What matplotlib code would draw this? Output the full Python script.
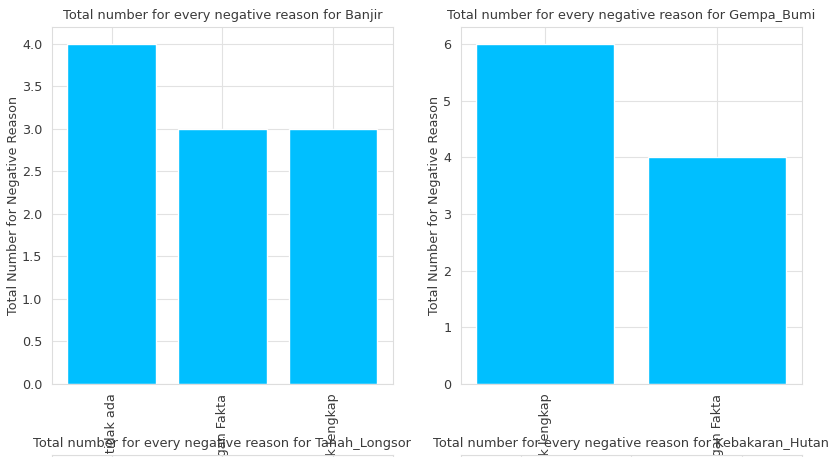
import matplotlib
matplotlib.use("Agg")
import matplotlib.pyplot as plt
import seaborn as sns

sns.set_style("whitegrid")
plt.rcParams['font.family'] = ['DejaVu Sans']

# negative reasons per disaster type
banjir_reasons = ["Informasi tidak ada", "Tidak sesuai dengan Fakta", "Informasi tidak lengkap"]
banjir_counts = [4, 3, 3]

gempa_reasons = ["Informasi tidak lengkap", "Tidak sesuai dengan Fakta"]
gempa_counts = [6, 4]

bar_color = "#00BFFF"
text_color = "#3a3a3a"
title_fs = 9.3
tick_fs = 9.2
label_fs = 9.2

fig = plt.figure(figsize=(8.29, 4.57), dpi=100)

ax1 = fig.add_axes([0.0627, 0.160, 0.411, 0.781])
ax2 = fig.add_axes([0.556, 0.160, 0.411, 0.781])
# second row sits below the visible area, only titles show
ax3 = fig.add_axes([0.0627, -0.780, 0.411, 0.7844])
ax4 = fig.add_axes([0.556, -0.780, 0.411, 0.7844])

for ax, reasons, counts, name in [(ax1, banjir_reasons, banjir_counts, "Banjir"),
                                  (ax2, gempa_reasons, gempa_counts, "Gempa_Bumi")]:
    ax.bar(reasons, counts, color=bar_color)
    ax.set_title(f"Total number for every negative reason for {name}",
                 fontsize=title_fs, color=text_color)
    ax.set_ylabel("Total Number for Negative Reason", fontsize=label_fs,
                  color=text_color, labelpad=1.5)
    ax.tick_params(axis="x", labelrotation=90, labelsize=tick_fs, labelcolor=text_color)
    ax.tick_params(axis="y", labelsize=tick_fs, labelcolor=text_color)
    ax.grid(color="#e2e2e2")
    for s in ax.spines.values():
        s.set_color("#dddddd")

ax2.set_yticks(range(0, 7))

for ax, name in [(ax3, "Tanah_Longsor"), (ax4, "Kebakaran_Hutan")]:
    ax.set_xlim(-0.54, 2.54)
    ax.set_xticks(range(3))
    ax.set_xticklabels([])
    ax.set_yticklabels([])
    ax.grid(color="#e2e2e2")
    for s in ax.spines.values():
        s.set_color("#dddddd")
    ax.set_title(f"Total number for every negative reason for {name}",
                 fontsize=title_fs, color=text_color)

fig.savefig("out.png", dpi=100)
